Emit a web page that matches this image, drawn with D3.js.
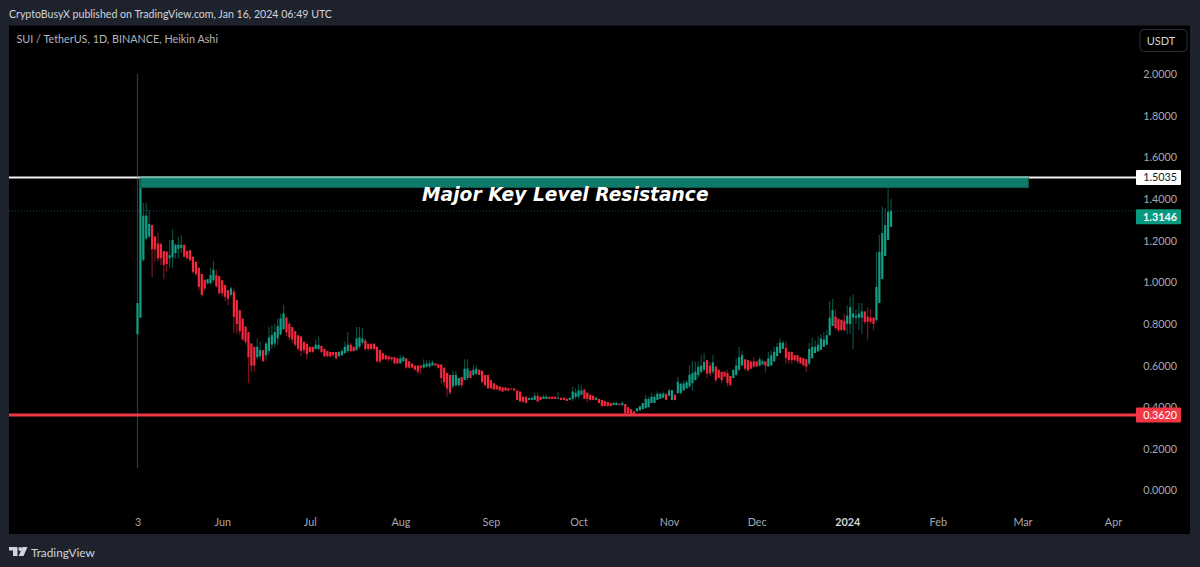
<!DOCTYPE html>
<html>
<head>
<meta charset="utf-8">
<title>SUI / TetherUS</title>
<script src="https://d3js.org/d3.v7.min.js"></script>
<style>
	html, body { margin: 0; padding: 0; background: #1e222d; overflow: hidden; }
	svg { display: block; }
	text { font-family: Lato, sans-serif; }
	.axis text { fill: #a5a8b1; font-family: Lato, sans-serif; font-size: 10.8px; }
</style>
</head>
<body>
<svg id="chart" width="1200" height="567"></svg>
<script type="text/javascript">
	// Heikin Ashi bars, one a day from 3 May 2023
	var firstDay = new Date(Date.UTC(2023, 4, 3));
	var opens = [
		.75,.83,1.107,1.21,1.22,1.275,1.22,1.186,1.183,1.15,
		1.147,1.115,1.12,1.14,1.16,1.165,1.18,1.15,1.154,1.122,
		1.098,1.07,1.04,1.012,.995,.995,1.01,1.034,1.03,1.01,
		.987,.962,.94,.955,.914,.866,.826,.787,.76,.706,
		.69,.64,.645,.674,.65,.67,.70,.706,.73,.75,
		.775,.83,.80,.785,.765,.745,.74,.714,.705,.69,
		.69,.68,.68,.695,.68,.67,.665,.665,.665,.645,
		.65,.66,.67,.70,.69,.675,.69,.71,.72,.705,
		.705,.705,.69,.675,.66,.65,.645,.64,.64,.635,
		.61,.62,.635,.62,.61,.60,.60,.60,.59,.595,
		.595,.60,.61,.606,.605,.59,.565,.555,.50,.505,
		.505,.545,.53,.54,.575,.555,.56,.58,.575,.555,
		.555,.53,.515,.505,.50,.495,.495,.49,.49,.49,
		.48,.475,.45,.45,.435,.435,.435,.455,.45,.44,
		.44,.45,.45,.45,.44,.445,.445,.44,.435,.44,
		.45,.45,.46,.485,.47,.46,.455,.435,.44,.435,
		.43,.425,.42,.41,.41,.415,.41,.415,.40,.39,
		.38,.38,.385,.39,.395,.40,.42,.42,.435,.44,
		.445,.465,.455,.434,.46,.467,.467,.48,.49,.50,
		.515,.53,.554,.57,.58,.626,.60,.57,.595,.58,
		.57,.57,.564,.55,.54,.555,.58,.60,.63,.626,
		.62,.62,.62,.60,.605,.62,.595,.60,.62,.645,
		.66,.68,.684,.666,.666,.65,.65,.64,.635,.63,
		.61,.635,.66,.668,.675,.69,.70,.745,.79,.835,
		.825,.82,.815,.80,.80,.83,.83,.83,.83,.86,
		.835,.83,.83,.818,.90,1.015,1.126,1.203,1.266
	];
	var closes = [
		.90,1.50,1.32,1.32,1.28,1.158,1.158,1.115,1.115,1.083,
		1.088,1.13,1.203,1.18,1.18,1.18,1.123,1.115,1.106,1.05,
		1.04,.978,.94,.97,1.015,1.034,1.06,.98,.947,.947,
		.93,.92,.97,.834,.80,.765,.725,.714,.64,.60,
		.60,.69,.674,.62,.706,.735,.746,.76,.79,.826,
		.85,.76,.735,.725,.70,.68,.67,.675,.655,.665,
		.665,.70,.70,.665,.645,.645,.645,.65,.635,.665,
		.67,.69,.70,.67,.67,.73,.735,.73,.68,.68,
		.68,.68,.62,.62,.63,.63,.63,.63,.61,.61,
		.635,.64,.59,.59,.59,.58,.57,.59,.605,.61,
		.61,.615,.60,.59,.54,.52,.49,.47,.555,.555,
		.54,.505,.585,.585,.54,.58,.585,.555,.52,.505,
		.49,.49,.485,.485,.48,.475,.48,.48,.485,.48,
		.435,.427,.427,.42,.445,.445,.455,.427,.435,.45,
		.45,.44,.44,.44,.445,.435,.435,.43,.445,.475,
		.47,.48,.48,.44,.44,.435,.435,.445,.42,.405,
		.405,.405,.405,.42,.42,.41,.42,.37,.37,.365,
		.365,.395,.405,.42,.44,.44,.45,.45,.465,.465,
		.465,.435,.48,.4825,.434,.522,.512,.514,.52,.556,
		.563,.57,.594,.60,.617,.562,.562,.615,.53,.54,
		.53,.546,.516,.507,.58,.60,.64,.65,.585,.578,
		.585,.595,.595,.63,.62,.60,.635,.65,.666,.69,
		.71,.71,.636,.626,.626,.626,.62,.61,.60,.595,
		.68,.69,.69,.70,.73,.725,.745,.83,.866,.78,
		.77,.77,.77,.84,.88,.85,.84,.85,.86,.81,
		.81,.81,.80,.978,1.146,1.236,1.275,1.338,1.343
	];
	var highs = [
		2.0,1.50,1.38,1.38,1.346,1.275,1.22,1.24,1.19,1.15,
		1.15,1.203,1.254,1.186,1.22,1.226,1.18,1.15,1.154,1.122,
		1.098,1.07,1.04,1.012,1.015,1.07,1.103,1.06,1.03,1.01,
		.987,.962,.98,.97,.914,.866,.826,.787,.76,.706,
		.69,.73,.714,.674,.714,.786,.794,.80,.826,.85,
		.892,.834,.81,.785,.765,.745,.74,.714,.705,.69,
		.69,.725,.74,.695,.68,.67,.665,.665,.665,.67,
		.68,.715,.76,.71,.69,.785,.785,.78,.73,.705,
		.705,.705,.69,.675,.66,.65,.645,.64,.64,.635,
		.65,.65,.635,.62,.61,.60,.60,.60,.63,.625,
		.625,.625,.61,.606,.605,.59,.565,.555,.575,.575,
		.54,.545,.63,.63,.575,.60,.60,.58,.575,.555,
		.555,.53,.515,.505,.50,.495,.495,.495,.49,.49,
		.48,.475,.45,.45,.445,.45,.47,.47,.45,.46,
		.46,.45,.45,.45,.47,.445,.445,.44,.445,.50,
		.49,.51,.505,.485,.47,.46,.455,.45,.44,.435,
		.43,.425,.42,.425,.425,.42,.43,.415,.40,.39,
		.38,.395,.405,.42,.46,.45,.47,.46,.475,.47,
		.475,.465,.49,.4825,.46,.546,.52,.53,.53,.60,
		.62,.62,.62,.65,.66,.626,.62,.65,.595,.58,
		.57,.57,.58,.55,.58,.635,.69,.67,.63,.626,
		.62,.64,.62,.64,.63,.62,.665,.67,.69,.71,
		.73,.72,.715,.666,.666,.65,.65,.64,.635,.63,
		.71,.735,.72,.74,.75,.76,.77,.91,.92,.87,
		.825,.82,.85,.89,.93,.94,.87,.90,.90,.86,
		.88,.87,.83,1.146,1.227,1.363,1.355,1.45,1.40
	];
	var lows = [
		.107,.83,1.10,1.20,1.21,1.023,1.098,1.098,1.083,1.014,
		1.05,1.07,1.07,1.115,1.115,1.14,1.12,1.11,1.10,1.04,
		1.03,.96,.93,.96,.99,.99,1.0,.975,.94,.93,
		.91,.89,.93,.756,.75,.746,.72,.70,.515,.57,
		.57,.63,.63,.62,.626,.65,.68,.69,.70,.745,
		.77,.74,.72,.71,.69,.67,.645,.66,.63,.66,
		.66,.675,.675,.66,.64,.64,.64,.64,.63,.64,
		.645,.655,.66,.665,.665,.67,.68,.70,.67,.67,
		.675,.67,.615,.61,.625,.625,.62,.62,.61,.61,
		.61,.62,.585,.585,.585,.575,.56,.56,.585,.59,
		.59,.60,.60,.585,.515,.50,.45,.46,.49,.50,
		.50,.495,.53,.53,.54,.55,.555,.555,.52,.505,
		.49,.49,.485,.485,.48,.475,.48,.475,.485,.48,
		.435,.427,.42,.42,.435,.435,.435,.427,.435,.44,
		.44,.44,.44,.44,.44,.435,.435,.43,.435,.43,
		.44,.44,.455,.44,.425,.43,.435,.435,.42,.405,
		.405,.405,.405,.41,.41,.41,.405,.37,.37,.365,
		.365,.38,.385,.39,.395,.40,.42,.42,.435,.44,
		.445,.435,.455,.434,.434,.467,.467,.48,.49,.49,
		.48,.53,.54,.56,.57,.54,.55,.56,.52,.54,
		.515,.546,.50,.50,.54,.55,.57,.60,.575,.57,
		.585,.59,.595,.595,.605,.565,.595,.60,.62,.645,
		.66,.68,.61,.61,.61,.62,.61,.61,.60,.57,
		.60,.635,.66,.668,.675,.69,.70,.745,.79,.77,
		.76,.77,.765,.75,.75,.68,.80,.77,.75,.80,
		.72,.80,.77,.81,.90,1.015,1.126,1.20,1.266
	];

	var priceTicks = [0, .2, .4, .6, .8, 1, 1.2, 1.4, 1.6, 1.8, 2];
	var timeTicks = [[2023,4,3],[2023,5,1],[2023,6,1],[2023,7,1],[2023,8,1],[2023,9,1],[2023,10,1],[2023,11,1],[2024,0,1],[2024,1,1],[2024,2,1],[2024,3,1]];
	var timeLabels = ["3","Jun","Jul","Aug","Sep","Oct","Nov","Dec","2024","Feb","Mar","Apr"];

	var resistance = 1.5035;
	var resistanceBase = 1.4546;
	var support = 0.3620;
	var lastPrice = 1.3146;
	var zoneStart = new Date(Date.UTC(2023, 4, 4));
	var zoneEnd = new Date(Date.UTC(2024, 2, 3));

	const PLOT = {left: 9, right: 1190, top: 25.5, bottom: 534};
	const LABELX = 1136, LABELW = 45, LABELH = 15;
	const GREEN = "#149c84", RED = "#f5283f";

	var svg = d3.select("#chart");

	var x = d3.scaleUtc()
		.domain([firstDay, new Date(Date.UTC(2024, 3, 1))])
		.range([137.5, 1113]);
	var y = d3.scaleLinear()
		.domain([0, 2])
		.range([490.5, 74]);

	svg.append("text").attr("x", 9).attr("y", 18)
		.attr("fill", "#d1d4dc").style("font-size", "10.6px")
		.text("CryptoBusyX published on TradingView.com, Jan 16, 2024 06:49 UTC");

	svg.append("rect")
		.attr("x", PLOT.left).attr("y", PLOT.top)
		.attr("width", PLOT.right - PLOT.left).attr("height", PLOT.bottom - PLOT.top)
		.attr("fill", "#000");

	svg.append("text").attr("x", 16.5).attr("y", 43)
		.attr("fill", "#b2b5be").style("font-size", "10.8px")
		.text("SUI / TetherUS, 1D, BINANCE, Heikin Ashi");

	// axes, no lines, only the labels
	var yAxis = svg.append("g").attr("class", "axis")
		.attr("transform", "translate(1177,0)")
		.call(d3.axisRight(y).tickValues(priceTicks).tickFormat(d3.format(".4f")).tickSize(0).tickPadding(0));
	yAxis.selectAll("text").attr("text-anchor", "end");

	var xAxis = svg.append("g").attr("class", "axis")
		.attr("transform", "translate(0,515)")
		.call(d3.axisBottom(x)
			.tickValues(timeTicks.map(function(d) { return new Date(Date.UTC(d[0], d[1], d[2])); }))
			.tickFormat(function(d, i) { return timeLabels[i]; })
			.tickSize(0).tickPadding(3));
	xAxis.selectAll(".domain").remove();
	yAxis.selectAll(".domain").remove();
	xAxis.selectAll("text").filter(function(d, i) { return timeLabels[i] === "2024"; })
		.style("fill", "#d1d4dc").style("font-weight", "700");

	// level lines
	svg.append("line")
		.attr("x1", PLOT.left).attr("x2", LABELX)
		.attr("y1", y(closes[closes.length - 1])).attr("y2", y(closes[closes.length - 1]))
		.attr("stroke", "#149c84").attr("stroke-opacity", 0.55)
		.attr("stroke-dasharray", "1 2");
	svg.append("line")
		.attr("x1", PLOT.left).attr("x2", LABELX)
		.attr("y1", y(resistance)).attr("y2", y(resistance))
		.attr("stroke", "#f2f2f2").attr("stroke-width", 2);

	// candles
	var bars = d3.range(opens.length).map(function(i) {
		return {
			day: d3.utcDay.offset(firstDay, i),
			open: opens[i], close: closes[i], high: highs[i], low: lows[i]
		};
	});
	var barColor = function(d) { return d.close >= d.open ? GREEN : RED; };

	svg.append("g").selectAll("line").data(bars).join("line")
		.attr("x1", function(d) { return x(d.day); })
		.attr("x2", function(d) { return x(d.day); })
		.attr("y1", function(d) { return y(d.high); })
		.attr("y2", function(d) { return y(d.low); })
		.attr("stroke", barColor)
		.attr("stroke-width", 1.2)
		.attr("stroke-opacity", 0.5);
	svg.append("g").selectAll("rect").data(bars).join("rect")
		.attr("x", function(d) { return x(d.day) - 1.1; })
		.attr("width", 2.2)
		.attr("y", function(d) { return y(Math.max(d.open, d.close)); })
		.attr("height", function(d) { return Math.max(1, Math.abs(y(d.open) - y(d.close))); })
		.attr("fill", barColor);

	// resistance zone
	svg.append("rect")
		.attr("x", x(zoneStart)).attr("width", x(zoneEnd) - x(zoneStart))
		.attr("y", y(resistance)).attr("height", y(resistanceBase) - y(resistance))
		.attr("fill", "#0f7a6a").attr("stroke", "#0b5c4e").attr("stroke-width", 1);
	svg.append("line")
		.attr("x1", x(zoneStart)).attr("x2", x(zoneEnd))
		.attr("y1", y(resistance)).attr("y2", y(resistance))
		.attr("stroke", "#72bfae").attr("stroke-width", 1.6);

	svg.append("line")
		.attr("x1", PLOT.left).attr("x2", LABELX)
		.attr("y1", y(support)).attr("y2", y(support))
		.attr("stroke", "#f23645").attr("stroke-width", 3);

	svg.append("text")
		.attr("x", 422).attr("y", 200.5)
		.attr("fill", "#fff")
		.style("font-family", "'DejaVu Sans', sans-serif")
		.style("font-size", "18.6px").style("font-weight", "bold").style("font-style", "italic")
		.style("letter-spacing", "0.05px")
		.text("Major Key Level Resistance");

	// price labels on the scale
	function priceLabel(value, fill, color, weight) {
		var cy = y(value);
		svg.append("rect")
			.attr("x", LABELX).attr("y", cy - LABELH / 2)
			.attr("width", LABELW).attr("height", LABELH).attr("rx", 1)
			.attr("fill", fill);
		svg.append("text")
			.attr("x", LABELX + LABELW - 4).attr("y", cy + 3.8)
			.attr("text-anchor", "end")
			.attr("fill", color).style("font-size", "10.8px").style("font-weight", weight)
			.text(d3.format(".4f")(value));
	}
	priceLabel(resistance, "#fff", "#131722", 400);
	priceLabel(lastPrice, "#089981", "#fff", 700);
	priceLabel(support, "#f23645", "#fff", 400);

	// unit button
	svg.append("rect")
		.attr("x", 1140).attr("y", 29.5).attr("width", 47).attr("height", 22).attr("rx", 4)
		.attr("fill", "#000").attr("stroke", "#2a2e39");
	svg.append("text").attr("x", 1161).attr("y", 44.5)
		.attr("text-anchor", "middle").attr("fill", "#d1d4dc").style("font-size", "11px")
		.text("USDT");

	// footer mark
	var logo = svg.append("g").attr("fill", "#d1d4dc");
	logo.append("path").attr("d", "M9 547H17.5V556H13V550.5H9Z");
	logo.append("circle").attr("cx", 20.3).attr("cy", 549).attr("r", 1.9);
	logo.append("path").attr("d", "M22.6 547H27.5L23.5 556H18.6Z");
	svg.append("text").attr("x", 31).attr("y", 556.5)
		.attr("fill", "#d1d4dc").style("font-size", "11.8px")
		.text("TradingView");
</script>
</body>
</html>
